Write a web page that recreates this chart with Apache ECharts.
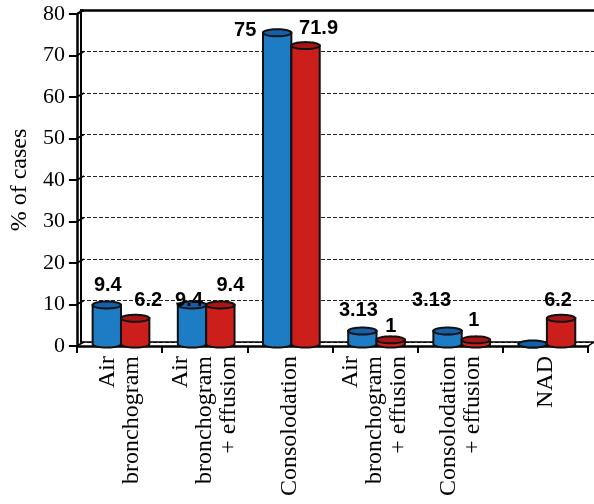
<!DOCTYPE html>
<html>
<head>
<meta charset="utf-8">
<script src="https://cdn.jsdelivr.net/npm/echarts@6/dist/echarts.min.js"></script>
<style>
  html, body { margin: 0; padding: 0; background: #fff; }
  #chart { width: 594px; height: 504px; }
</style>
</head>
<body>
<div id="chart"></div>
<script>
// Categories and percentages
const categories = [
  'Air\nbronchogram',
  'Air\nbronchogram\n+ effusion',
  'Consolodation',
  'Air\nbronchogram\n+ effusion',
  'Consolodation\n+ effusion',
  'NAD'
];
const blueValues = [9.4, 9.4, 75, 3.13, 3.13, 0];
const redValues = [6.2, 9.4, 71.9, 1, 1, 6.2];
const yTicks = [0, 10, 20, 30, 40, 50, 60, 70, 80];

// Pixel nudges for the value labels, relative to each cylinder's top
const blueLabelShift = [[1, -20], [-3, -5], [-32, -2], [-4, -21], [-16, -31], [0, 0]];
const redLabelShift = [[13, -18], [10, -20], [13, -17], [0, -13], [-2, -19], [-3, -18]];

const SERIF = '"Liberation Serif", "Times New Roman", serif';
const SANS = '"Liberation Sans", Arial, sans-serif';
const DEPTH_X = 7, DEPTH_Y = 4;   // front axis -> back wall
const MID_X = 1.5, MID_Y = -2;    // cylinders stand at mid depth

function cylinder(bodyColor, topColor, side, shifts) {
  return function (params, api) {
    const idx = api.value(0);
    const val = api.value(1);
    const band = api.size([1, 0])[0];
    const w = band * 0.333;
    const c = api.coord([idx, val]);
    const b = api.coord([idx, 0]);
    const cx = c[0] + side * w / 2 + MID_X;
    const yt = c[1] + MID_Y;
    const yb = b[1] + MID_Y;
    const rx = w / 2, ry = 3.5;
    const body = [[cx - rx, yt], [cx - rx, yb]];
    for (let i = 1; i < 24; i++) {
      const a = Math.PI * i / 24;
      body.push([cx - rx * Math.cos(a), yb + ry * Math.sin(a)]);
    }
    body.push([cx + rx, yb], [cx + rx, yt]);
    const top = [];
    for (let i = 0; i < 48; i++) {
      const a = 2 * Math.PI * i / 48;
      top.push([cx + rx * Math.cos(a), yt + ry * Math.sin(a)]);
    }
    const children = [
      { type: 'polygon', shape: { points: body },
        style: { fill: bodyColor, stroke: '#111', lineWidth: 2 } },
      { type: 'polygon', shape: { points: top },
        style: { fill: topColor, stroke: '#111', lineWidth: 2 } }
    ];
    if (val !== 0) {
      const s = shifts[idx];
      children.push({
        type: 'text', z2: 100,
        x: cx + s[0], y: yt + s[1],
        style: {
          text: String(val), fill: '#000',
          font: 'bold 20px ' + SANS,
          align: 'center', verticalAlign: 'middle'
        }
      });
    }
    return { type: 'group', children: children };
  };
}

// Slanted edges joining the front axis to the back wall
function frameEdges(params, api) {
  const v = api.value(1);
  const sys = params.coordSys;
  const y = api.coord([0, v])[1];
  const x = sys.x;
  const lines = [{
    type: 'line',
    shape: { x1: x, y1: y, x2: x + DEPTH_X, y2: y - DEPTH_Y },
    style: { stroke: '#000', lineWidth: v === 80 ? 2.5 : 1.5 }
  }];
  if (v === 0) {
    const xr = sys.x + sys.width;
    lines.push({
      type: 'line',
      shape: { x1: xr, y1: y, x2: xr + 6, y2: y - DEPTH_Y },
      style: { stroke: '#000', lineWidth: 1.5 }
    });
  }
  return { type: 'group', children: lines };
}

const chart = echarts.init(document.getElementById('chart'), null, { renderer: 'canvas' });

chart.setOption({
  animation: false,
  backgroundColor: '#fff',
  grid: [
    { left: 74, right: 6, top: 14, bottom: 158 },
    { left: 81, right: 0, top: 10, bottom: 162 }
  ],
  xAxis: [
    {
      gridIndex: 0, type: 'category', data: categories,
      axisLine: { onZero: false, lineStyle: { color: '#000', width: 2.5 } },
      axisTick: { show: true, interval: 0, length: 7, lineStyle: { color: '#000', width: 2 } },
      axisLabel: {
        interval: 0, rotate: 90, margin: 10, color: '#000',
        fontFamily: SERIF, fontSize: 24, lineHeight: 24
      },
      splitLine: { show: false }
    },
    {
      gridIndex: 1, type: 'value', min: 0, max: 1, position: 'bottom',
      axisLine: { onZero: false, lineStyle: { color: '#000', width: 1.5 } },
      axisTick: { show: false }, axisLabel: { show: false }, splitLine: { show: false }
    },
    {
      gridIndex: 1, type: 'value', min: 0, max: 1, position: 'top',
      axisLine: { onZero: false, lineStyle: { color: '#000', width: 2.5 } },
      axisTick: { show: false }, axisLabel: { show: false }, splitLine: { show: false }
    }
  ],
  yAxis: [
    {
      gridIndex: 0, type: 'value', min: 0, max: 80, interval: 10,
      name: '% of cases', nameLocation: 'middle', nameGap: 44,
      nameTextStyle: { fontFamily: SERIF, fontSize: 24, color: '#000' },
      axisLine: { show: true, onZero: false, lineStyle: { color: '#000', width: 2.5 } },
      axisTick: { show: true, length: 8, lineStyle: { color: '#000', width: 2 } },
      axisLabel: { margin: 12, color: '#000', fontFamily: SERIF, fontSize: 22 },
      splitLine: { show: false }
    },
    {
      gridIndex: 1, type: 'value', min: 0, max: 80, interval: 10,
      axisLine: { show: true, onZero: false, lineStyle: { color: '#000', width: 2 } },
      axisTick: { show: false }, axisLabel: { show: false },
      splitLine: { show: true, lineStyle: { color: '#222', width: 1, type: [4, 2] } }
    }
  ],
  series: [
    {
      type: 'custom', name: 'frame', xAxisIndex: 0, yAxisIndex: 0, z: 1,
      renderItem: frameEdges, silent: true,
      data: yTicks.map(function (v) { return [0, v]; })
    },
    {
      type: 'custom', name: 'blue', xAxisIndex: 0, yAxisIndex: 0, z: 3,
      renderItem: cylinder('#1d7cc4', '#1660aa', -1, blueLabelShift),
      data: blueValues.map(function (v, i) { return [i, v]; })
    },
    {
      type: 'custom', name: 'red', xAxisIndex: 0, yAxisIndex: 0, z: 3,
      renderItem: cylinder('#cc1f1c', '#a81515', 1, redLabelShift),
      data: redValues.map(function (v, i) { return [i, v]; })
    }
  ]
});
</script>
</body>
</html>
